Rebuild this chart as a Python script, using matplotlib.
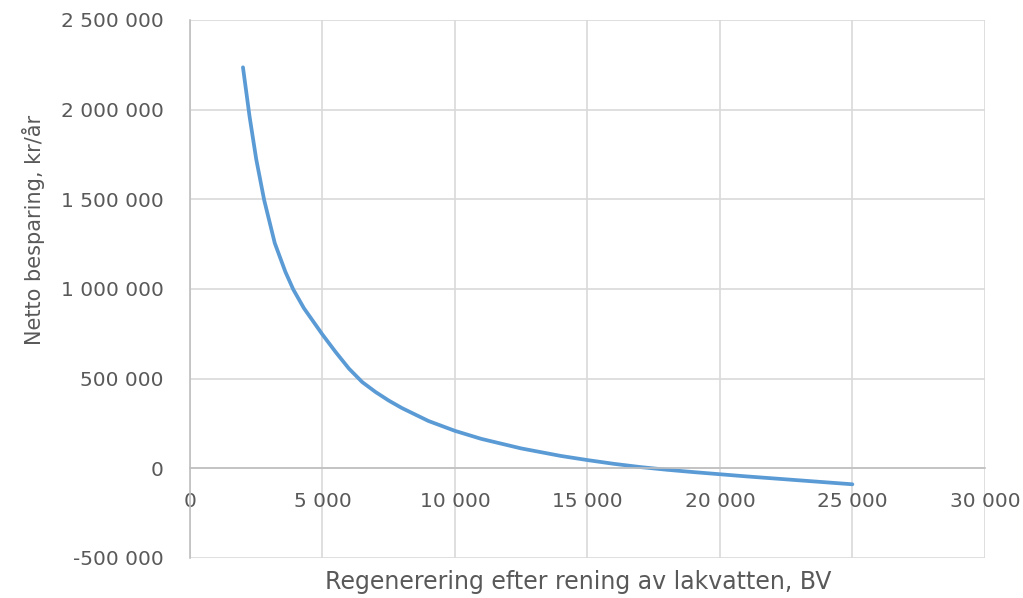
import matplotlib
matplotlib.use('Agg')
from matplotlib import pyplot as plt
from matplotlib.ticker import FuncFormatter, MultipleLocator

# regenerering (BV) och netto besparing (kr/år)
bv = [2000, 2250, 2500, 2800, 3200, 3600, 3900, 4300, 5000, 5500, 6000,
      6500, 7000, 7500, 8000, 9000, 10000, 11000, 12500, 14000, 15000,
      16000, 17000, 18000, 19000, 20000, 21000, 22000, 23000, 24000, 25000]
besparing = [2236000, 1961000, 1724000, 1496000, 1256000, 1096000, 997000,
             893000, 746000, 648000, 556000, 481000, 426000, 378000, 336000,
             264000, 209000, 164000, 111000, 69000, 46000, 25000, 7000,
             -8000, -21000, -33000, -45000, -56000, -67000, -78000, -89000]

x_ticks_step = 5000
y_ticks_step = 500000

plt.rcParams['font.family'] = ['DejaVu Sans']
text_color = '#595959'
grid_color = '#d9d9d9'

figure = plt.figure(figsize=(10.23, 5.98), dpi=100)
ax = figure.add_axes([0.1857, 0.0669, 0.777, 0.8997])

ax.plot(bv, besparing, color='#5b9bd5', linewidth=2.7,
        solid_capstyle='round', solid_joinstyle='round')

ax.set_xlim(0, 30000)
ax.set_ylim(-500000, 2500000)
ax.xaxis.set_major_locator(MultipleLocator(x_ticks_step))
ax.yaxis.set_major_locator(MultipleLocator(y_ticks_step))

space_fmt = FuncFormatter(lambda v, pos: f'{v:,.0f}'.replace(',', ' '))
ax.xaxis.set_major_formatter(space_fmt)
ax.yaxis.set_major_formatter(space_fmt)

ax.grid(True, color=grid_color, linewidth=1.2)
ax.set_axisbelow(True)

for side in ['top', 'right']:
    ax.spines[side].set_visible(False)
ax.spines['bottom'].set_position(('data', 0))
ax.spines['bottom'].set_color('#bfbfbf')
ax.spines['left'].set_color('#bfbfbf')
ax.spines['bottom'].set_linewidth(1.2)
ax.spines['left'].set_linewidth(1.2)

ax.tick_params(axis='x', length=0, pad=17, labelsize=14.5, labelcolor=text_color)
ax.tick_params(axis='y', length=0, pad=19, labelsize=14.5, labelcolor=text_color)

ax.set_ylabel('Netto besparing, kr/år', fontsize=15, color=text_color, va='center')
ax.yaxis.set_label_coords(-0.197, 0.61)
ax.set_xlabel('Regenerering efter rening av lakvatten, BV', fontsize=17,
              color=text_color, va='center')
ax.xaxis.set_label_coords(0.489, -0.044)

plt.savefig('out.png', dpi=100)
